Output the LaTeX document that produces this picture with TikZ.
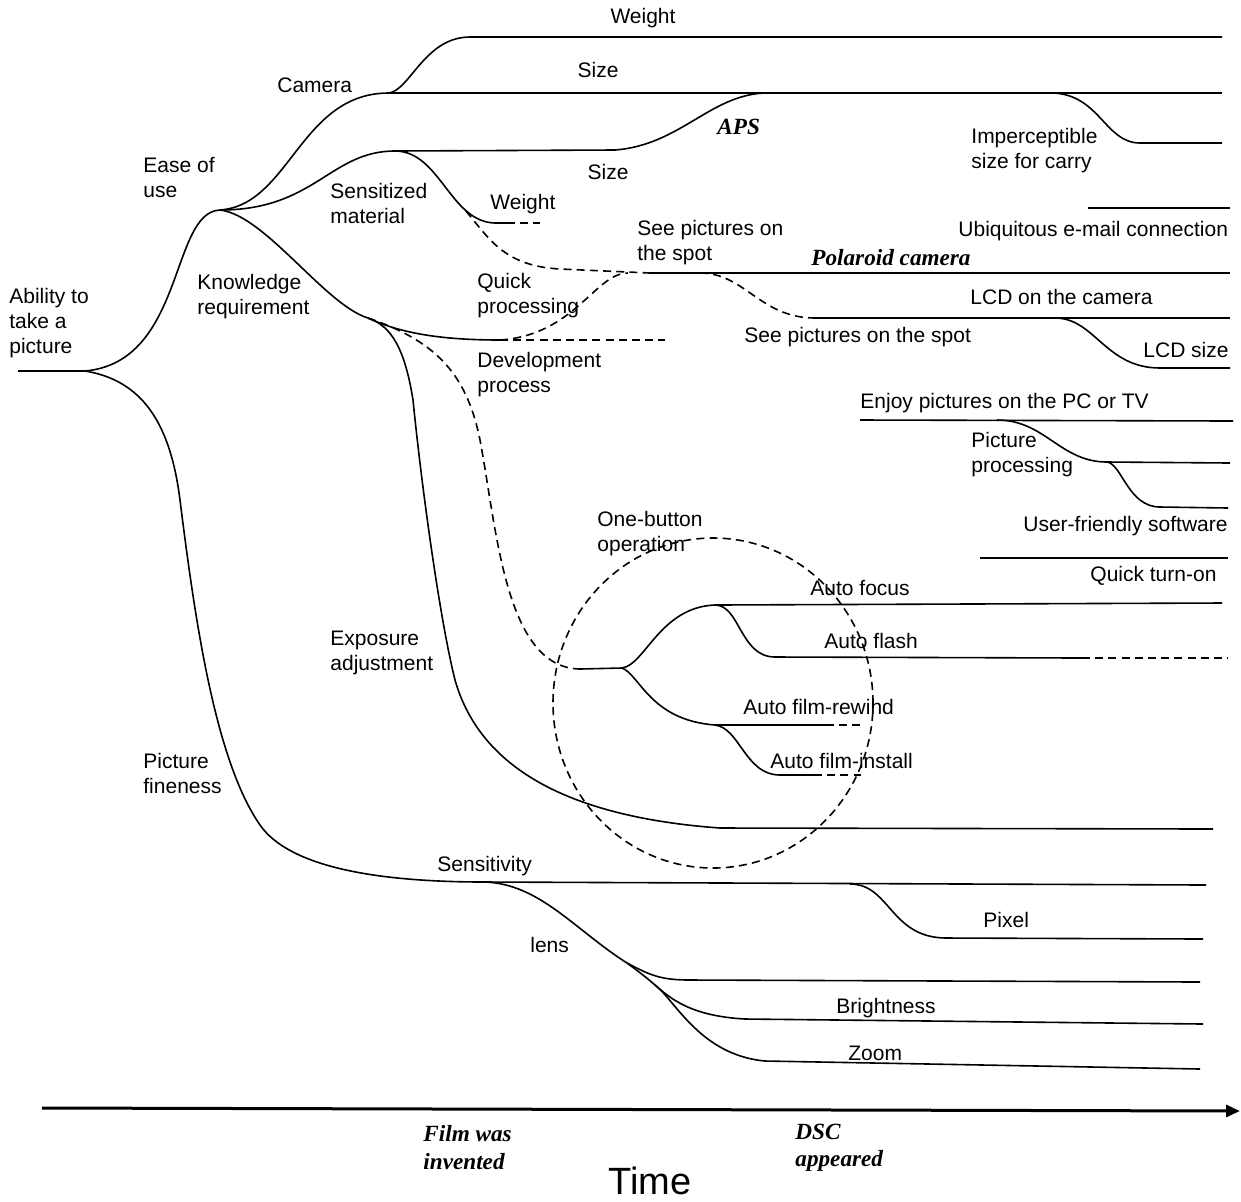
\documentclass[tikz,border=0pt]{standalone}
\usepackage{fontspec}
\setmainfont{Liberation Sans}
\newfontfamily\serifbi{Liberation Serif}
\usetikzlibrary{arrows.meta}
\begin{document}
\begin{tikzpicture}[x=0.5pt,y=-0.5pt,
  line/.style={line width=0.8pt},
  dline/.style={line width=0.8pt, dash pattern=on 4pt off 2.6pt},
  lab/.style={inner sep=0pt, font=\fontsize{10.5}{12.5}\selectfont, align=left},
  ital/.style={inner sep=0pt, font=\serifbi\bfseries\itshape\fontsize{11.6}{13.6}\selectfont, align=left}]
\useasboundingbox (0,0) rectangle (1241,1201);
% ---------- coordinates ----------
\coordinate (r0) at (18,371);
\coordinate (r1) at (85,371);
\coordinate (e) at (220,210);
\coordinate (c) at (389,93);
\coordinate (w1) at (470,37);
\coordinate (w2) at (1222,37);
\coordinate (s1) at (1222,93);
\coordinate (ip0) at (1053,93);
\coordinate (ip1) at (1140,143);
\coordinate (ip2) at (1222,143);
\coordinate (sm) at (395,151);
\coordinate (aps0) at (615,150);
\coordinate (aps1) at (765,93);
\coordinate (wt1) at (495,223);
\coordinate (wt2) at (507,223);
\coordinate (wt3) at (540,223);
\coordinate (d0) at (466,211);
\coordinate (d1) at (560,269);
\coordinate (pl0) at (650,273);
\coordinate (pl1) at (1230,273);
\coordinate (qp) at (628,273);
\coordinate (sp0) at (700,273);
\coordinate (sp1) at (815,318);
\coordinate (lcd1) at (1230,318);
\coordinate (lc0) at (1055,318);
\coordinate (lc1) at (1160,368);
\coordinate (lc2) at (1230,368);
\coordinate (ub0) at (1088,208);
\coordinate (ub1) at (1230,208);
\coordinate (k) at (368,318);
\coordinate (dv1) at (500,340);
\coordinate (dv2) at (665,340);
\coordinate (en0) at (860,420);
\coordinate (en1) at (1233,421);
\coordinate (pp0) at (997,420);
\coordinate (pp1) at (1107,462);
\coordinate (pp2) at (1230,463);
\coordinate (uf1) at (1160,507);
\coordinate (uf2) at (1228,508);
\coordinate (qt0) at (980,558);
\coordinate (qt1) at (1228,558);
\coordinate (ex1) at (413,400);
\coordinate (ex2) at (455,680);
\coordinate (ex3) at (720,828);
\coordinate (ex4) at (1213,829);
\coordinate (dk1) at (480,440);
\coordinate (dk3) at (580,669);
\coordinate (ob) at (622,668);
\coordinate (af) at (715,605);
\coordinate (af2) at (1222,603);
\coordinate (fl1) at (775,657);
\coordinate (fl2) at (1082,658);
\coordinate (fl3) at (1228,658);
\coordinate (rw) at (715,725);
\coordinate (rw1) at (826,725);
\coordinate (rw2) at (861,725);
\coordinate (in1) at (780,775);
\coordinate (in2) at (814,775);
\coordinate (in3) at (861,775);
\coordinate (oc) at (713,703);
\coordinate (pfa) at (180,500);
\coordinate (pfb) at (260,825);
\coordinate (pf) at (485,882);
\coordinate (sn) at (1206,885);
\coordinate (px0) at (850,884);
\coordinate (px1) at (945,938);
\coordinate (px2) at (1203,939);
\coordinate (ln) at (627,963);
\coordinate (lb) at (655,985);
\coordinate (lu) at (690,980);
\coordinate (lu2) at (1200,982);
\coordinate (br) at (745,1019);
\coordinate (br2) at (1203,1024);
\coordinate (zm) at (765,1061);
\coordinate (zm2) at (1200,1069);
\coordinate (ax0) at (42,1108);
\coordinate (ax1) at (1240,1111);
% ---------- lines ----------
\draw[line] (r0) -- (r1);
\draw[line] (r1) .. controls (185,362) and (170,212) .. (e);
\draw[line] (e) .. controls (290,205) and (300,93) .. (c);
\draw[line] (c) .. controls (410,90) and (425,37) .. (w1) -- (w2);
\draw[line] (c) -- (s1);
\draw[line] (ip0) .. controls (1100,95) and (1105,143) .. (ip1) -- (ip2);
\draw[line] (e) .. controls (315,210) and (330,151) .. (sm);
\draw[line] (sm) -- (aps0) .. controls (680,145) and (710,95) .. (aps1);
\draw[line] (sm) .. controls (440,151) and (450,222) .. (wt1) -- (wt2);
\draw[dline] (wt2) -- (wt3);
\draw[dline] (d0) .. controls (490,240) and (505,266) .. (d1) -- (pl0);
\draw[line] (pl0) -- (pl1);
\draw[line] (k) .. controls (400,333) and (440,340) .. (dv1);
\draw[dline] (dv1) -- (dv2);
\draw[dline] (dv1) .. controls (575,335) and (595,273) .. (qp);
\draw[dline] (sp0) .. controls (745,273) and (760,318) .. (sp1);
\draw[line] (sp1) -- (lcd1);
\draw[line] (lc0) .. controls (1095,318) and (1105,368) .. (lc1) -- (lc2);
\draw[line] (ub0) -- (ub1);
\draw[line] (en0) -- (en1);
\draw[line] (pp0) .. controls (1045,420) and (1060,462) .. (pp1) -- (pp2);
\draw[line] (pp1) .. controls (1122,464) and (1128,507) .. (uf1) -- (uf2);
\draw[line] (qt0) -- (qt1);
\draw[line] (e) .. controls (265,215) and (325,305) .. (k);
\draw[line] (k) .. controls (392,326) and (405,350) .. (ex1) .. controls (422,490) and (440,620) .. (ex2) .. controls (475,750) and (540,815) .. (ex3) -- (ex4);
\draw[dline] (k) .. controls (432,340) and (466,370) .. (dk1) .. controls (497,530) and (505,668) .. (dk3);
\draw[line] (dk3) -- (ob);
\draw[line] (ob) .. controls (645,665) and (660,607) .. (af) -- (af2);
\draw[line] (af) .. controls (740,605) and (740,657) .. (fl1) -- (fl2);
\draw[dline] (fl2) -- (fl3);
\draw[line] (ob) .. controls (640,675) and (650,720) .. (rw) -- (rw1);
\draw[dline] (rw1) -- (rw2);
\draw[line] (rw) .. controls (740,728) and (745,775) .. (in1) -- (in2);
\draw[dline] (in2) -- (in3);
\draw[dline] (oc) ellipse [x radius=80pt, y radius=82.5pt];
\draw[line] (r1) .. controls (140,380) and (170,420) .. (pfa) .. controls (195,620) and (215,760) .. (pfb) .. controls (290,868) and (380,882) .. (pf) -- (sn);
\draw[line] (px0) .. controls (890,884) and (890,937) .. (px1) -- (px2);
\draw[line] (pf) .. controls (540,884) and (575,930) .. (ln);
\draw[line] (ln) .. controls (650,975) and (660,980) .. (lu) -- (lu2);
\draw[line] (ln) .. controls (638,971) and (647,978) .. (lb);
\draw[line] (lb) .. controls (670,998) and (690,1016) .. (br) -- (br2);
\draw[line] (lb) .. controls (675,1000) and (700,1055) .. (zm) -- (zm2);
\draw[line width=1.5pt, -{Triangle[length=7pt,width=6pt]}] (ax0) -- (ax1);
% ---------- labels ----------
\node[lab] (tWeightA) at (643,18) {Weight};
\node[lab] (tSizeA) at (598,70) {Size};
\node[lab, anchor=west] (tCamera) at (277,85) {Camera};
\node[ital, anchor=west] (tAPS) at (717,127) {APS};
\node[lab, anchor=west] (tImp) at (971,150.5) {Imperceptible\\size for carry};
\node[lab, anchor=west] (tEase) at (143,177.5) {Ease of\\use};
\node[lab] (tSizeB) at (608,172) {Size};
\node[lab, anchor=west] (tSens) at (330,203) {Sensitized\\material};
\node[lab, anchor=west] (tWeightB) at (490,204) {Weight};
\node[lab, anchor=west] (tUbi) at (958,231) {Ubiquitous e-mail connection};
\node[lab, anchor=west] (tSeeA) at (637,242.5) {See pictures on\\the spot};
\node[ital, anchor=west] (tPol) at (811,258) {Polaroid camera};
\node[lab, anchor=west] (tAbil) at (9,323) {Ability to\\take a\\picture};
\node[lab, anchor=west] (tKnow) at (197,296.5) {Knowledge\\requirement};
\node[lab, anchor=west] (tQuick) at (477,295.5) {Quick\\processing};
\node[lab, anchor=west] (tLCD) at (970,297) {LCD on the camera};
\node[lab, anchor=west] (tSeeB) at (744,337) {See pictures on the spot};
\node[lab, anchor=east] (tLCDs) at (1229,350) {LCD size};
\node[lab, anchor=west] (tDev) at (477,374.5) {Development\\process};
\node[lab, anchor=west] (tEnjoy) at (860,403) {Enjoy pictures on the PC or TV};
\node[lab, anchor=west] (tPP) at (971,455) {Picture\\processing};
\node[lab, anchor=east] (tUF) at (1228,526) {User-friendly software};
\node[lab, anchor=west] (tOne) at (597,533.5) {One-button\\operation};
\node[lab, anchor=west] (tQT) at (1090,576) {Quick turn-on};
\node[lab, anchor=west] (tAF) at (810,588) {Auto focus};
\node[lab, anchor=west] (tExp) at (330,653) {Exposure\\adjustment};
\node[lab, anchor=west] (tFlash) at (824,641) {Auto flash};
\node[lab, anchor=west] (tRew) at (743,707) {Auto film-rewind};
\node[lab, anchor=west] (tInst) at (770,761) {Auto film-install};
\node[lab, anchor=west] (tFine) at (143,773.5) {Picture\\fineness};
\node[lab, anchor=west] (tSensi) at (437,866) {Sensitivity};
\node[lab, anchor=west] (tPixel) at (983,920) {Pixel};
\node[lab, anchor=west] (tLens) at (530,945) {lens};
\node[lab, anchor=west] (tBright) at (836,1008) {Brightness};
\node[lab, anchor=west] (tZoom) at (848,1053) {Zoom};
\node[ital, anchor=west] (tFilm) at (423,1147.5) {Film was\\invented};
\node[ital, anchor=west] (tDSC) at (795,1148) {DSC\\appeared};
\node[inner sep=0pt, font=\fontsize{19}{22}\selectfont] (tTime) at (650,1181) {Time};
\end{tikzpicture}
\end{document}
